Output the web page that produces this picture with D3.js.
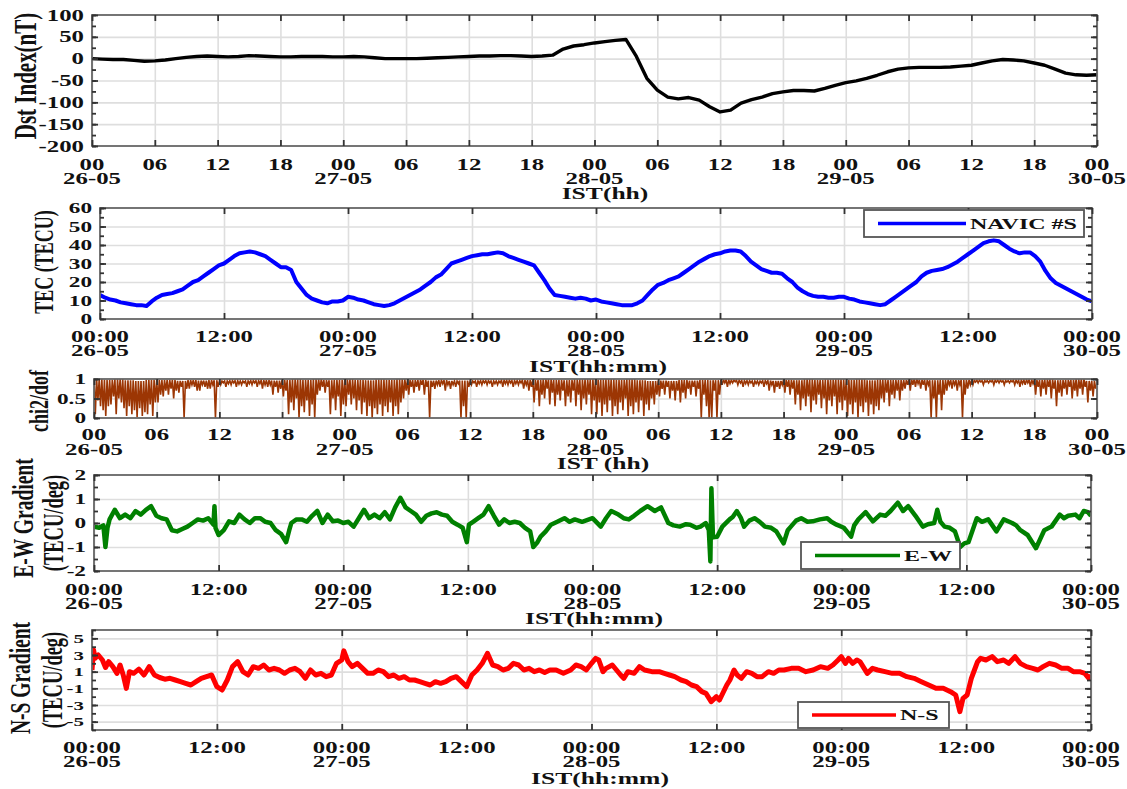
<!DOCTYPE html>
<html>
<head>
<meta charset="utf-8">
<script src="https://cdn.jsdelivr.net/npm/d3@7"></script>
<style>
  body { margin: 0; background: #fff; }
  text { font-family: 'Liberation Serif', 'Times New Roman', serif; font-weight: bold; fill: #111; }
</style>
</head>
<body>
<div id="chart"></div>
<script>
// ---- tick positions / labels (hours since 26-05 00:00 IST) ----
const ticks6 = [0, 6, 12, 18, 24, 30, 36, 42, 48, 54, 60, 66, 72, 78, 84, 90, 96];
const labels6 = ['00','06','12','18','00','06','12','18','00','06','12','18','00','06','12','18','00'];
const ticks12 = [0, 12, 24, 36, 48, 60, 72, 84, 96];
const labels12 = ['00:00','12:00','00:00','12:00','00:00','12:00','00:00','12:00','00:00'];
const dateTicks = [0, 24, 48, 72, 96];
const dateLabels = ['26-05', '27-05', '28-05', '29-05', '30-05'];

// ---- Dst index, hourly (nT) ----
const dstValues = [
  0, -1, -2, -2, -4, -6, -5, -3, 0, 3, 5, 6,
  5, 4, 5, 7, 6, 5, 4, 4, 5, 5, 5, 4,
  4, 5, 4, 2, 0, 0, 0, 0, 1, 2, 3, 4,
  5, 6, 6, 7, 7, 6, 5, 6, 8, 22, 29, 32,
  36, 39, 42, 44, 5, -45, -72, -88, -92, -89, -95, -110,
  -122, -118, -102, -94, -88, -80, -76, -73, -73, -74, -68, -61,
  -55, -51, -45, -38, -30, -24, -21, -20, -20, -20, -19, -17,
  -15, -10, -5, -2, -3, -5, -10, -15, -24, -33, -37, -38,
  -37
];

// ---- NAVIC TEC, every 30 min (TECU) ----
const tecValues = [
  13, 11.5, 10.5, 10, 9, 8.5, 8, 7.5, 7.5, 7, 9.5, 11.5,
  13, 13.5, 14, 15, 16, 18, 20, 21, 23, 25, 27, 29,
  30, 32, 34, 35.5, 36, 36.5, 36, 35, 34, 32, 30, 28,
  28, 26.5, 20, 16.5, 13, 11, 10, 9, 8.5, 9.5, 9.5, 10,
  12, 11.5, 10.5, 10, 9, 8, 7.5, 7, 7.5, 8.5, 10, 11.5,
  13, 14.5, 16, 18, 20, 22.5, 24, 27, 30, 31, 32, 33,
  34, 34.5, 35, 35, 35.5, 36, 35.5, 34, 33, 32, 31, 30,
  29, 25, 21, 16.5, 13, 12.5, 12, 11.5, 11, 11.5, 11, 10,
  10.5, 9.5, 9, 8.5, 8, 7.5, 7.5, 7.5, 8.5, 10, 13, 16,
  18.5, 19.5, 21, 22, 23, 25, 27, 29, 31, 32.5, 34, 35,
  35.5, 36.5, 37, 37, 36.5, 34, 31, 29, 27, 26, 25, 25,
  24.5, 22, 20, 17, 15, 13.5, 12.5, 12, 12, 11.5, 11.5, 12,
  12, 11, 10.5, 9.5, 9, 8.5, 8, 7.5, 8, 10, 12, 14,
  16, 18, 20, 23, 25, 26, 26.5, 27, 28, 29.5, 31, 33,
  35, 37, 39, 41, 42, 42.5, 42, 40, 38, 36.5, 35.5, 36,
  36, 34, 31, 26, 22, 19.5, 18, 16.5, 15, 13.5, 12, 10.5,
  9.5
];

// ---- chi2/dof ----
// lower reach of each 15-min slice (one row = one hour)
const chiLow = [
  0.1, 0.45, 0.3, 0.2,   0.05, 0.3, 0.35, 0.55,  0.1, 0.5, 0.4, 0.25,   0.05, 0.3, 0.1, 0.2,
  0.02, 0.25, 0.05, 0.15, 0.1, 0.35, 0.05, 0.4,  0.4, 0.6, 0.55, 0.7,   0.6, 0.75, 0.5, 0.7,
  0.65, 0.8, 0.0, 0.75,  0.75, 0.85, 0.8, 0.7,   0.7, 0.85, 0.8, 0.75,  0.75, 0.85, 0.0, 0.8,
  0.85, 0.9, 0.8, 0.88,  0.85, 0.9, 0.8, 0.87,   0.85, 0.9, 0.8, 0.88,  0.85, 0.9, 0.8, 0.88,
  0.75, 0.85, 0.8, 0.85, 0.6, 0.8, 0.65, 0.75,   0.55, 0.7, 0.1, 0.4,   0.2, 0.5, 0.0, 0.3,
  0.15, 0.45, 0.05, 0.35, 0.0, 0.6, 0.7, 0.8,    0.65, 0.8, 0.1, 0.5,   0.2, 0.55, 0.05, 0.35,
  0.3, 0.6, 0.35, 0.5,   0.2, 0.45, 0.1, 0.4,    0.05, 0.3, 0.0, 0.25,  0.1, 0.35, 0.05, 0.3,
  0.15, 0.4, 0.05, 0.3,  0.1, 0.4, 0.5, 0.7,     0.6, 0.8, 0.65, 0.8,   0.7, 0.85, 0.6, 0.8,
  0.0, 0.8, 0.75, 0.85,  0.8, 0.88, 0.7, 0.85,   0.75, 0.85, 0.8, 0.88, 0.0, 0.3, 0.0, 0.8,
  0.85, 0.9, 0.8, 0.88,  0.85, 0.9, 0.85, 0.9,   0.8, 0.88, 0.85, 0.9,  0.8, 0.88, 0.85, 0.9,
  0.8, 0.88, 0.85, 0.9,  0.75, 0.85, 0.7, 0.8,   0.4, 0.7, 0.3, 0.6,    0.5, 0.75, 0.35, 0.65,
  0.3, 0.6, 0.45, 0.7,   0.3, 0.55, 0.4, 0.7,    0.3, 0.6, 0.2, 0.5,    0.35, 0.6, 0.1, 0.45,
  0.1, 0.4, 0.05, 0.35,  0.15, 0.45, 0.05, 0.3,  0.1, 0.4, 0.2, 0.5,    0.05, 0.3, 0.1, 0.4,
  0.15, 0.45, 0.05, 0.35, 0.2, 0.5, 0.35, 0.6,   0.55, 0.75, 0.6, 0.8,  0.5, 0.7, 0.45, 0.7,
  0.4, 0.65, 0.5, 0.75,  0.6, 0.8, 0.55, 0.75,   0.0, 0.6, 0.3, 0.0,    0.0, 0.7, 0.0, 0.6,
  0.85, 0.9, 0.8, 0.88,  0.9, 0.93, 0.85, 0.9,   0.8, 0.88, 0.85, 0.9,  0.8, 0.88, 0.85, 0.9,
  0.8, 0.88, 0.7, 0.85,  0.65, 0.8, 0.75, 0.85,  0.65, 0.8, 0.6, 0.75,  0.35, 0.6, 0.2, 0.5,
  0.3, 0.55, 0.15, 0.45, 0.35, 0.6, 0.25, 0.5,   0.1, 0.45, 0.3, 0.55,  0.1, 0.4, 0.2, 0.45,
  0.05, 0.35, 0.1, 0.4,  0.0, 0.3, 0.15, 0.4,    0.05, 0.35, 0.1, 0.3,  0.2, 0.5, 0.4, 0.65,
  0.3, 0.6, 0.5, 0.7,    0.45, 0.7, 0.75, 0.85,  0.7, 0.85, 0.8, 0.88,  0.75, 0.85, 0.7, 0.85,
  0.0, 0.5, 0.0, 0.6,    0.2, 0.6, 0.7, 0.85,    0.75, 0.85, 0.7, 0.85, 0.0, 0.6, 0.75, 0.85,
  0.85, 0.92, 0.9, 0.93, 0.85, 0.92, 0.9, 0.93,  0.85, 0.92, 0.9, 0.93, 0.85, 0.92, 0.9, 0.93,
  0.85, 0.9, 0.8, 0.88,  0.85, 0.9, 0.8, 0.88,   0.6, 0.8, 0.55, 0.75,  0.6, 0.8, 0.5, 0.75,
  0.3, 0.65, 0.55, 0.75, 0.6, 0.8, 0.5, 0.7,     0.55, 0.75, 0.6, 0.8,  0.4, 0.7, 0.55, 0.75
];
// upper reach per hour
const chiHigh = [
  1, 0.98, 1, 0.97, 0.95, 0.98, 0.97, 0.98, 0.95, 0.97, 0.96, 0.97,
  0.95, 0.96, 0.95, 0.96, 0.97, 0.96, 0.98, 1, 0.98, 1, 0.97, 0.98,
  1, 0.98, 0.97, 0.99, 0.98, 1, 0.97, 0.98, 0.96, 0.97, 0.95, 0.96,
  0.95, 0.96, 0.95, 0.97, 0.96, 0.97, 0.98, 1, 0.98, 0.97, 0.99, 1,
  0.99, 1, 0.98, 1, 0.97, 0.95, 0.96, 0.95, 0.97, 0.96, 0.98, 0.97,
  0.98, 0.97, 0.96, 0.95, 0.96, 0.95, 0.98, 0.97, 1, 0.98, 0.99, 1,
  0.98, 1, 0.97, 0.99, 0.98, 0.97, 1, 0.98, 0.97, 0.98, 0.97, 0.98,
  0.97, 0.96, 0.97, 0.96, 0.97, 0.98, 0.98, 0.99, 0.97, 0.98, 1, 0.95
];

// ---- E-W gradient [hour, TECU/deg] ----
const ewGradient = [
  [0,-0.15],[0.5,-0.2],[0.9,-0.1],[1.1,-1.0],[1.3,-0.2],[1.5,0.15],[2,0.55],[2.5,0.2],[3,0.35],[3.5,0.2],
  [4,0.5],[4.5,0.35],[5,0.55],[5.5,0.7],[6,0.3],[6.5,0.2],[7,0.15],[7.5,-0.3],[8,-0.35],[8.5,-0.25],
  [9,-0.15],[9.5,0],[10,0.15],[10.5,0.1],[11,0.2],[11.5,-0.07],[11.6,0.7],[11.7,-0.2],[12,-0.5],[12.5,-0.3],
  [13,0.07],[13.5,0],[14,0.35],[14.5,0.15],[15,0],[15.5,0.2],[16,0.2],[16.5,0.05],[17,0],[17.5,-0.3],
  [18,-0.45],[18.5,-0.8],[18.8,-0.3],[19,0],[19.5,0.15],[20,0.15],[20.5,0.05],[21,0.3],[21.5,0.5],[22,0],
  [22.5,0.35],[23,0.07],[23.5,0.1],[24,0],[24.5,0.05],[25,-0.15],[25.5,0.2],[26,0.55],[26.5,0.2],[27,0.35],
  [27.5,0.2],[28,0.45],[28.5,0.15],[29,0.65],[29.5,1.05],[30,0.65],[30.5,0.5],[31,0.35],[31.5,0.05],[32,0.3],
  [32.5,0.4],[33,0.45],[33.5,0.35],[34,0.3],[34.5,0.05],[35,-0.07],[35.5,-0.2],[35.9,-0.8],[36.1,-0.07],[36.5,0.05],
  [37,0.2],[37.5,0.35],[38,0.7],[38.5,0.3],[39,-0.07],[39.5,0.15],[40,0],[40.5,0.05],[41,0],[41.5,-0.2],
  [42,-0.35],[42.3,-1.0],[42.7,-0.8],[43,-0.57],[43.5,-0.35],[44,-0.07],[44.6,0.05],[45.3,0.2],[45.8,0.05],[46.3,0.15],
  [47,0.05],[48,0.2],[48.8,-0.15],[49.3,0.2],[49.8,0.5],[50.5,0.35],[51,0.2],[51.5,0.15],[52,0.3],[52.6,0.5],
  [53.3,0.7],[54,0.5],[54.6,0.65],[55.3,0],[55.8,-0.1],[56.4,-0.15],[57,-0.05],[57.4,-0.07],[58,-0.2],[58.4,-0.15],
  [58.9,0],[59.2,-0.3],[59.35,-1.6],[59.45,1.45],[59.6,-0.6],[60,-0.57],[60.5,-0.15],[61.2,0.15],[61.5,0.25],[61.9,0.5],
  [62.3,0.2],[62.6,-0.15],[63.1,0.1],[63.6,0.2],[64.1,0.05],[64.6,-0.15],[65.2,-0.2],[65.7,-0.35],[66.4,-0.85],[66.8,-0.3],
  [67.1,-0.15],[67.6,0.1],[68.1,0.2],[68.7,0.05],[69.2,0.07],[69.9,0.15],[70.6,0.2],[71,0.05],[71.5,-0.07],[72.2,-0.2],
  [72.9,-0.57],[73.2,-0.1],[73.6,0.15],[74.3,0.45],[75,0.07],[75.7,0.35],[76.2,0.3],[76.7,0.5],[77.4,0.85],[77.9,0.5],
  [78.4,0.7],[79.1,0.3],[79.8,-0.15],[80.3,-0.05],[80.9,0],[81.2,0.55],[81.5,0.05],[81.9,-0.15],[82.4,-0.2],[82.9,-0.35],
  [83.4,-1.0],[83.8,-0.85],[84.2,-0.8],[85,0.2],[85.5,0.05],[86.1,0.15],[86.9,-0.35],[87.6,0.15],[88.4,0],[88.8,-0.1],
  [89.2,-0.3],[89.9,-0.5],[90.7,-1.05],[91.5,-0.3],[92.2,-0.15],[93,0.35],[93.4,0.2],[93.8,0.3],[94.5,0.35],[94.9,0.2],
  [95.3,0.5],[95.7,0.45],[96,0.3]
];

// ---- N-S gradient [hour, TECU/deg] ----
const nsGradient = [
  [0,1.2],[0.15,3.6],[0.3,2.6],[0.6,3.0],[1,2.4],[1.3,1.5],[1.6,2.2],[2,1.6],[2.4,0.8],[2.7,1.8],
  [3,0.6],[3.3,-1.0],[3.6,1.0],[4,0.8],[4.5,1.3],[5,0.6],[5.5,1.6],[6,0.6],[6.5,0.3],[7,0.1],
  [7.5,0.2],[8,0],[8.5,-0.2],[9,-0.4],[9.5,-0.6],[10,-0.2],[10.5,0.2],[11,0.4],[11.5,0.6],[12,-0.8],
  [12.5,-1.2],[13,0],[13.5,1.6],[14,2.2],[14.5,1.0],[15,0.6],[15.5,1.6],[16,1.4],[16.5,1.8],[17,1.2],
  [17.5,1.4],[18,1.2],[18.5,0.8],[19,1.2],[19.5,1.4],[20,1.0],[20.5,0.2],[21,1.2],[21.5,0.6],[22,0.8],
  [22.5,0.4],[23,0.6],[23.5,2.0],[24,2.4],[24.2,3.5],[24.6,2.2],[25,1.6],[25.5,2.0],[26,1.4],[26.5,0.8],
  [27,0.8],[27.5,1.2],[28,1.0],[28.5,0.4],[29,0.6],[29.5,0.2],[30,0.4],[30.5,0.0],[31,0],[31.5,-0.2],
  [32,-0.4],[32.5,-0.6],[33,-0.2],[33.5,-0.4],[34,-0.2],[34.5,0.2],[35,0.4],[35.5,-0.2],[36,-0.8],[36.5,0.6],
  [37,1.2],[37.5,2.0],[38,3.2],[38.5,1.8],[39,1.6],[39.5,1.2],[40,1.4],[40.5,2.0],[41,1.8],[41.5,1.2],
  [42,1.4],[42.5,1.0],[43,1.2],[43.5,0.9],[44,1.2],[44.6,1.2],[45.3,0.8],[46,1.2],[46.5,1.8],[47,1.6],
  [47.5,1.2],[48,2.0],[48.4,2.6],[48.7,2.4],[49.1,1.0],[49.4,1.4],[50,1.8],[50.4,1.2],[50.8,0.6],[51.1,0.2],
  [51.5,1.0],[52.1,0.8],[52.6,1.6],[53.1,1.2],[53.8,1.0],[54.5,1.0],[55,0.8],[55.5,0.6],[56,0.4],[56.6,0],
  [57.1,-0.2],[57.6,-0.6],[58.1,-0.8],[58.6,-1.4],[59,-1.6],[59.5,-2.6],[60,-2.0],[60.3,-2.4],[61,-0.6],[61.3,0],
  [61.7,1.2],[62,0.6],[62.4,0.2],[62.9,1.0],[63.4,0.8],[63.9,0.4],[64.4,0.4],[65,1.0],[65.5,0.8],[66,1.2],
  [66.5,1.2],[67.2,1.4],[67.9,1.4],[68.6,1.0],[69.3,1.2],[70,1.6],[70.7,1.4],[71.2,1.8],[71.7,2.4],[72,2.8],
  [72.4,2.0],[72.7,2.6],[73.1,2.0],[73.5,2.4],[73.8,2.2],[74.2,1.4],[74.5,0.8],[75,1.4],[75.5,1.2],[76.2,1.0],
  [76.9,0.8],[77.6,0.8],[78.3,0.4],[79,0.2],[79.7,-0.2],[80.4,-0.6],[81.1,-1.0],[81.8,-1.0],[82.5,-1.4],[83,-1.8],
  [83.4,-3.8],[83.7,-2.2],[84.1,-1.8],[84.5,0.2],[84.8,1.2],[85.1,2.2],[85.4,2.6],[85.9,2.4],[86.5,2.8],[87,2.2],
  [87.6,2.4],[88.1,2.0],[88.7,2.8],[89.2,2.0],[89.8,1.6],[90.4,1.4],[90.9,1.2],[91.4,1.6],[92,2.0],[92.6,1.8],
  [93.2,1.4],[93.8,1.4],[94.3,1.0],[94.9,1.0],[95.4,0.8],[95.8,0.2],[96,0.6]
];

// ---------------------------------------------------------------
const SX = 1.55; // text in the reference is horizontally stretched

const svg = d3.select('#chart').append('svg')
    .attr('width', 1127)
    .attr('height', 789)
    .style('background', '#fff');

function buildPanel(p) {
  const g = svg.append('g');
  const w = p.right - p.left, h = p.bottom - p.top;
  const x = d3.scaleLinear().domain([0, 96]).range([p.left, p.right]);
  const y = d3.scaleLinear().domain(p.yDomain).range([p.bottom, p.top]);

  // grid
  g.append('g').attr('class', 'grid')
      .attr('transform', `translate(0,${p.bottom})`)
      .call(d3.axisBottom(x).tickValues(p.xTicks).tickSize(-h).tickFormat(''));
  g.append('g').attr('class', 'grid')
      .attr('transform', `translate(${p.left},0)`)
      .call(d3.axisLeft(y).tickValues(p.yGrid).tickSize(-w).tickFormat(''));
  g.selectAll('.grid .domain').remove();
  g.selectAll('.grid line').attr('stroke', '#dedede').attr('stroke-width', 1.6);

  g.append('clipPath').attr('id', 'clip-' + p.id)
    .append('rect')
      .attr('x', p.left).attr('y', p.top)
      .attr('width', w).attr('height', h);
  const plot = g.append('g').attr('clip-path', `url(#clip-${p.id})`);

  return {g, plot, x, y};
}

function finishPanel(p, s) {
  const g = s.g;

  g.append('rect')
      .attr('x', p.left).attr('y', p.top)
      .attr('width', p.right - p.left).attr('height', p.bottom - p.top)
      .attr('fill', 'none')
      .attr('stroke', '#666')
      .attr('stroke-width', 1.8);

  const addTicks = (axis, tx, ty) => g.append('g').attr('class', 'ticks')
      .attr('transform', `translate(${tx},${ty})`).call(axis);
  addTicks(d3.axisBottom(s.x).tickValues(p.xTicks).tickSize(-6).tickFormat(''), 0, p.bottom);
  addTicks(d3.axisTop(s.x).tickValues(p.xTicks).tickSize(-6).tickFormat(''), 0, p.top);
  addTicks(d3.axisLeft(s.y).tickValues(p.yMinor).tickSize(-4).tickFormat(''), p.left, 0);
  addTicks(d3.axisRight(s.y).tickValues(p.yMinor).tickSize(-4).tickFormat(''), p.right, 0);
  addTicks(d3.axisLeft(s.y).tickValues(p.yTicks).tickSize(-6).tickFormat(''), p.left, 0);
  addTicks(d3.axisRight(s.y).tickValues(p.yTicks).tickSize(-6).tickFormat(''), p.right, 0);
  g.selectAll('.ticks .domain').remove();
  g.selectAll('.ticks line').attr('stroke', '#333').attr('stroke-width', 1.8);

  // y tick labels
  g.selectAll(null).data(p.yTicks).join('text')
      .attr('transform', d => `translate(${p.left - 8},${s.y(d)}) scale(${SX},1)`)
      .attr('text-anchor', 'end')
      .attr('dy', '0.35em')
      .style('font-size', p.yFont + 'px')
      .text(d => String(d));

  // x tick labels: time, with the date underneath at midnight
  const xl = g.selectAll(null).data(p.xTicks).join('text')
      .attr('transform', d => `translate(${s.x(d)},${p.bottom}) scale(${SX},1)`)
      .attr('text-anchor', 'middle')
      .style('font-size', '16px');
  xl.append('tspan')
      .attr('x', 0).attr('y', p.line1)
      .text((d, i) => p.xLabels[i]);
  xl.filter(d => dateTicks.includes(d)).append('tspan')
      .attr('x', 0).attr('y', p.line2)
      .text(d => dateLabels[dateTicks.indexOf(d)]);

  // axis titles
  g.append('text')
      .attr('transform', `translate(${p.xTitleX},${p.bottom + p.line3}) scale(${SX},1)`)
      .attr('text-anchor', 'middle')
      .style('font-size', '16.5px')
      .text(p.xTitle);
  p.yTitles.forEach(t => {
    g.append('text')
        .attr('transform', `translate(${t.x},${t.y}) rotate(-90) scale(1,${SX})`)
        .attr('text-anchor', 'middle')
        .attr('dy', '0.35em')
        .style('font-size', t.size + 'px')
        .text(t.text);
  });
}

function addLegend(s, box, color, label) {
  s.g.append('rect')
      .attr('x', box.x).attr('y', box.y)
      .attr('width', box.w).attr('height', box.h)
      .attr('fill', '#fff')
      .attr('stroke', '#555')
      .attr('stroke-width', 1.8);
  const cy = box.y + box.h / 2;
  s.g.append('line')
      .attr('x1', box.x + 14).attr('x2', box.x + box.lineW)
      .attr('y1', cy).attr('y2', cy)
      .attr('stroke', color)
      .attr('stroke-width', 3.5);
  s.g.append('text')
      .attr('transform', `translate(${box.x + box.lineW + 4},${cy}) scale(${SX},1)`)
      .attr('dy', '0.35em')
      .style('font-size', '15.5px')
      .text(label);
}

// ---- panel 1 : Dst ----
const p1 = {
  id: 'dst', left: 92, right: 1097, top: 15, bottom: 146,
  yDomain: [-200, 100],
  yTicks: [-200, -150, -100, -50, 0, 50, 100],
  yGrid: [-150, -100, -50, 0, 50],
  yMinor: d3.range(-200, 101, 25),
  yFont: 16,
  xTicks: ticks6, xLabels: labels6,
  line1: 24, line2: 38, line3: 53,
  xTitle: 'IST(hh)', xTitleX: 605,
  yTitles: [{text: 'Dst Index(nT)', x: 25, y: 76, size: 21}]
};
const s1 = buildPanel(p1);
s1.plot.append('path')
    .datum(dstValues)
    .attr('fill', 'none')
    .attr('stroke', '#000')
    .attr('stroke-width', 3.4)
    .attr('stroke-linejoin', 'round')
    .attr('d', d3.line().x((d, i) => s1.x(i)).y(d => s1.y(d)));
finishPanel(p1, s1);

// ---- panel 2 : TEC ----
const p2 = {
  id: 'tec', left: 100, right: 1092, top: 208, bottom: 319,
  yDomain: [0, 60],
  yTicks: [0, 10, 20, 30, 40, 50, 60],
  yGrid: [10, 20, 30, 40, 50],
  yMinor: d3.range(0, 61, 5),
  yFont: 15,
  xTicks: ticks12, xLabels: labels12,
  line1: 23, line2: 37, line3: 53,
  xTitle: 'IST(hh:mm)', xTitleX: 598,
  yTitles: [{text: 'TEC (TECU)', x: 43, y: 262, size: 18}]
};
const s2 = buildPanel(p2);
s2.plot.append('path')
    .datum(tecValues)
    .attr('fill', 'none')
    .attr('stroke', '#0000ff')
    .attr('stroke-width', 4)
    .attr('stroke-linejoin', 'round')
    .attr('d', d3.line().x((d, i) => s2.x(i * 0.5)).y(d => s2.y(d)));
finishPanel(p2, s2);
addLegend(s2, {x: 864, y: 210, w: 220, h: 27, lineW: 102}, '#0000ff', 'NAVIC #S');

// ---- panel 3 : chi2/dof ----
const p3 = {
  id: 'chi', left: 94, right: 1097, top: 379, bottom: 418,
  yDomain: [0, 1],
  yTicks: [0, 0.5, 1],
  yGrid: [0.5],
  yMinor: [0, 0.5, 1],
  yFont: 15,
  xTicks: ticks6, xLabels: labels6,
  line1: 22, line2: 37, line3: 51,
  xTitle: 'IST (hh)', xTitleX: 603,
  yTitles: [{text: 'chi2/dof', x: 38, y: 401, size: 18}]
};
const s3 = buildPanel(p3);
const chiPoints = [];
chiLow.forEach((lo, i) => {
  chiPoints.push([i * 0.25, chiHigh[Math.floor(i / 4)]]);
  chiPoints.push([i * 0.25 + 0.125, lo]);
});
s3.plot.append('path')
    .datum(chiPoints)
    .attr('fill', 'none')
    .attr('stroke', '#9c3604')
    .attr('stroke-width', 1.6)
    .attr('d', d3.line().x(d => s3.x(d[0])).y(d => s3.y(d[1])));
finishPanel(p3, s3);

// ---- panel 4 : E-W gradient ----
const p4 = {
  id: 'ew', left: 94, right: 1091, top: 475, bottom: 571,
  yDomain: [-2, 2],
  yTicks: [-2, -1, 0, 1, 2],
  yGrid: [-1, 0, 1],
  yMinor: d3.range(-2, 2.01, 0.5),
  yFont: 15,
  xTicks: ticks12, xLabels: labels12,
  line1: 24, line2: 38, line3: 53,
  xTitle: 'IST(hh:mm)', xTitleX: 594,
  yTitles: [
    {text: 'E-W Gradient', x: 22, y: 518, size: 19.5},
    {text: '(TECU/deg)', x: 53, y: 523, size: 18.5}
  ]
};
const s4 = buildPanel(p4);
s4.plot.append('path')
    .datum(ewGradient)
    .attr('fill', 'none')
    .attr('stroke', '#008000')
    .attr('stroke-width', 4.5)
    .attr('stroke-linejoin', 'round')
    .attr('d', d3.line().x(d => s4.x(d[0])).y(d => s4.y(d[1])));
finishPanel(p4, s4);
addLegend(s4, {x: 801, y: 542, w: 159, h: 27, lineW: 99}, '#008000', 'E-W');

// ---- panel 5 : N-S gradient ----
const p5 = {
  id: 'ns', left: 92, right: 1091, top: 630, bottom: 730,
  yDomain: [-6, 6],
  yTicks: [-5, -3, -1, 1, 3, 5],
  yGrid: [-5, -3, -1, 1, 3, 5],
  yMinor: d3.range(-6, 7, 1),
  yFont: 13.5,
  xTicks: ticks12, xLabels: labels12,
  line1: 23, line2: 37, line3: 54,
  xTitle: 'IST(hh:mm)', xTitleX: 600,
  yTitles: [
    {text: 'N-S Gradient', x: 19, y: 678, size: 19.5},
    {text: '(TECU/deg)', x: 52, y: 680, size: 18.5}
  ]
};
const s5 = buildPanel(p5);
s5.plot.append('path')
    .datum(nsGradient)
    .attr('fill', 'none')
    .attr('stroke', '#ff0000')
    .attr('stroke-width', 5)
    .attr('stroke-linejoin', 'round')
    .attr('d', d3.line().x(d => s5.x(d[0])).y(d => s5.y(d[1])));
finishPanel(p5, s5);
addLegend(s5, {x: 798, y: 702, w: 151, h: 26, lineW: 98}, '#ff0000', 'N-S');
</script>
</body>
</html>
